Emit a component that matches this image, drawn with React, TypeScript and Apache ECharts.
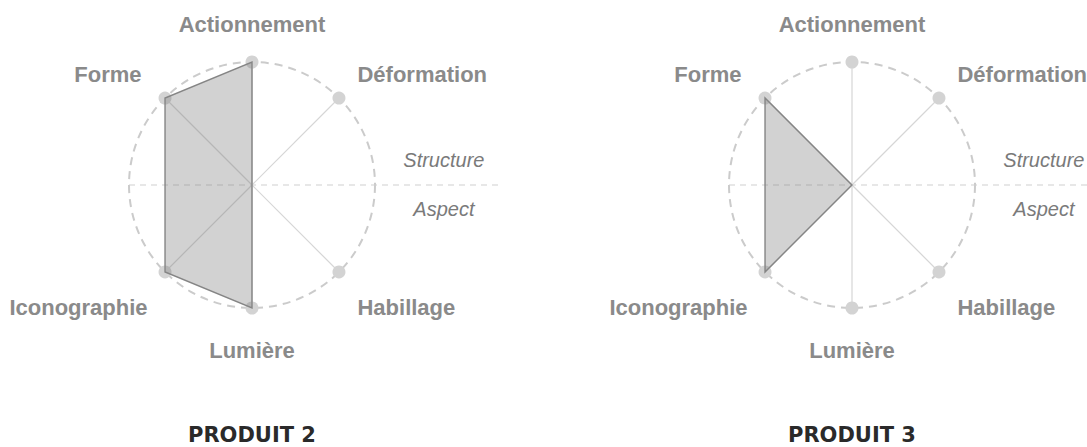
import React, { useEffect, useRef } from 'react';
import * as echarts from 'echarts';

const indicators = ['Actionnement', 'Déformation', 'Habillage', 'Lumière', 'Iconographie', 'Forme'];
const indicatorAngles = [0, 45, 135, 180, 225, 315];
const productNames = ['PRODUIT 2', 'PRODUIT 3'];
const produit2 = [1, 0, 0, 1, 1, 1];
const produit3 = [0, 0, 0, 0, 1, 1];
const productValues = [produit2, produit3];
const halfLabels = ['Structure', 'Aspect'];
const maxValue = 1;

const centers = [[252, 185], [852, 185]];
const RADIUS = 123;

export default function App() {
  const ref = useRef<HTMLDivElement>(null);
  useEffect(() => {
    if (!ref.current) return;
    const chart = echarts.init(ref.current, undefined, { renderer: 'svg' });

    const polar = centers.map((c) => ({ center: [c[0], c[1]], radius: RADIUS }));
    const angleAxis = centers.map((_, k) => ({
      polarIndex: k,
      type: 'value',
      min: 0,
      max: 360,
      interval: 45,
      startAngle: 90,
      clockwise: true,
      axisLine: { show: true, lineStyle: { color: '#cbcbcb', width: 2, type: [8, 6] } },
      axisTick: { show: false },
      axisLabel: { show: false },
      splitLine: { show: false },
    }));
    const radiusAxis = centers.map((_, k) => ({
      polarIndex: k,
      type: 'value',
      min: 0,
      max: maxValue,
      axisLine: { show: false },
      axisTick: { show: false },
      axisLabel: { show: false },
      splitLine: { show: false },
    }));

    const series: any[] = [];
    productValues.forEach((values, k) => {
      // frame: horizontal dashed separator, half labels, title
      series.push({
        type: 'custom',
        coordinateSystem: 'polar',
        polarIndex: k,
        z: 1,
        silent: true,
        data: [[0, 0]],
        renderItem: (params: any, api: any) => {
          const c = api.coord([0, 0]);
          const l = api.coord([maxValue, 270]);
          const R = c[0] - l[0];
          return {
            type: 'group',
            children: [
              {
                type: 'line',
                shape: { x1: l[0], y1: c[1], x2: c[0] + 2 * R, y2: c[1] },
                style: { stroke: '#cfcfcf', lineWidth: 1, lineDash: [6, 5] },
              },
              {
                type: 'text',
                x: c[0] + 1.56 * R,
                y: c[1] - 25,
                style: {
                  text: halfLabels[0], align: 'center', verticalAlign: 'middle',
                  fill: '#7a7a7a', fontSize: 20, fontStyle: 'italic', fontFamily: 'Liberation Sans',
                },
              },
              {
                type: 'text',
                x: c[0] + 1.56 * R,
                y: c[1] + 24,
                style: {
                  text: halfLabels[1], align: 'center', verticalAlign: 'middle',
                  fill: '#7a7a7a', fontSize: 20, fontStyle: 'italic', fontFamily: 'Liberation Sans',
                },
              },
              {
                type: 'text',
                x: c[0],
                y: c[1] + 2.03 * R,
                style: {
                  text: productNames[k], align: 'center', verticalAlign: 'middle',
                  fill: '#2a2a2a', fontSize: 21, fontWeight: 'bold', fontFamily: 'DejaVu Sans',
                },
              },
            ],
          };
        },
      });
      // spokes, dots, labels
      series.push({
        type: 'custom',
        coordinateSystem: 'polar',
        polarIndex: k,
        z: 2,
        silent: true,
        data: indicators.map((_, i) => [maxValue, indicatorAngles[i]]),
        renderItem: (params: any, api: any) => {
          const i = params.dataIndex;
          const c = api.coord([0, 0]);
          const p = api.coord([api.value(0), api.value(1)]);
          const lp = api.coord([maxValue * 1.27, api.value(1)]);
          const dx = lp[0] - c[0];
          const dy = lp[1] - c[1];
          const vertical = Math.abs(dx) < 1;
          const align = vertical ? 'center' : dx > 0 ? 'left' : 'right';
          let ly = lp[1];
          let lx = lp[0];
          if (vertical) ly += dy < 0 ? -4 : 9;
          else {
            if (dx > 0) lx -= 5;
            else if (dy > 0) lx += 6;
            if (dy > 0) ly += 12;
          }
          return {
            type: 'group',
            children: [
              {
                type: 'line',
                shape: { x1: c[0], y1: c[1], x2: p[0], y2: p[1] },
                style: { stroke: '#d6d6d6', lineWidth: 1.2 },
              },
              {
                type: 'circle',
                shape: { cx: p[0], cy: p[1], r: 6.5 },
                style: { fill: '#d3d3d3' },
              },
              {
                type: 'text',
                x: lx,
                y: ly,
                style: {
                  text: indicators[i], align, verticalAlign: 'middle',
                  fill: '#8a8a8a', fontSize: 22, fontWeight: 'bold', fontFamily: 'Liberation Sans',
                },
              },
            ],
          };
        },
      });
      // product polygon
      series.push({
        type: 'custom',
        coordinateSystem: 'polar',
        polarIndex: k,
        z: 3,
        silent: true,
        data: [[0, 0]],
        renderItem: (params: any, api: any) => {
          const pts = values.map((v, i) => api.coord([v, indicatorAngles[i]]));
          return {
            type: 'polygon',
            shape: { points: pts },
            style: { fill: 'rgba(115,115,115,0.32)', stroke: '#858585', lineWidth: 1.4 },
          };
        },
      });
    });

    chart.setOption({
      animation: false,
      backgroundColor: '#ffffff',
      polar,
      angleAxis,
      radiusAxis,
      series,
    });
    return () => chart.dispose();
  }, []);
  return (
    <div
      ref={ref}
      style={{ position: 'absolute', left: 0, top: 0, width: 1087, height: 447 }}
    />
  );
}
